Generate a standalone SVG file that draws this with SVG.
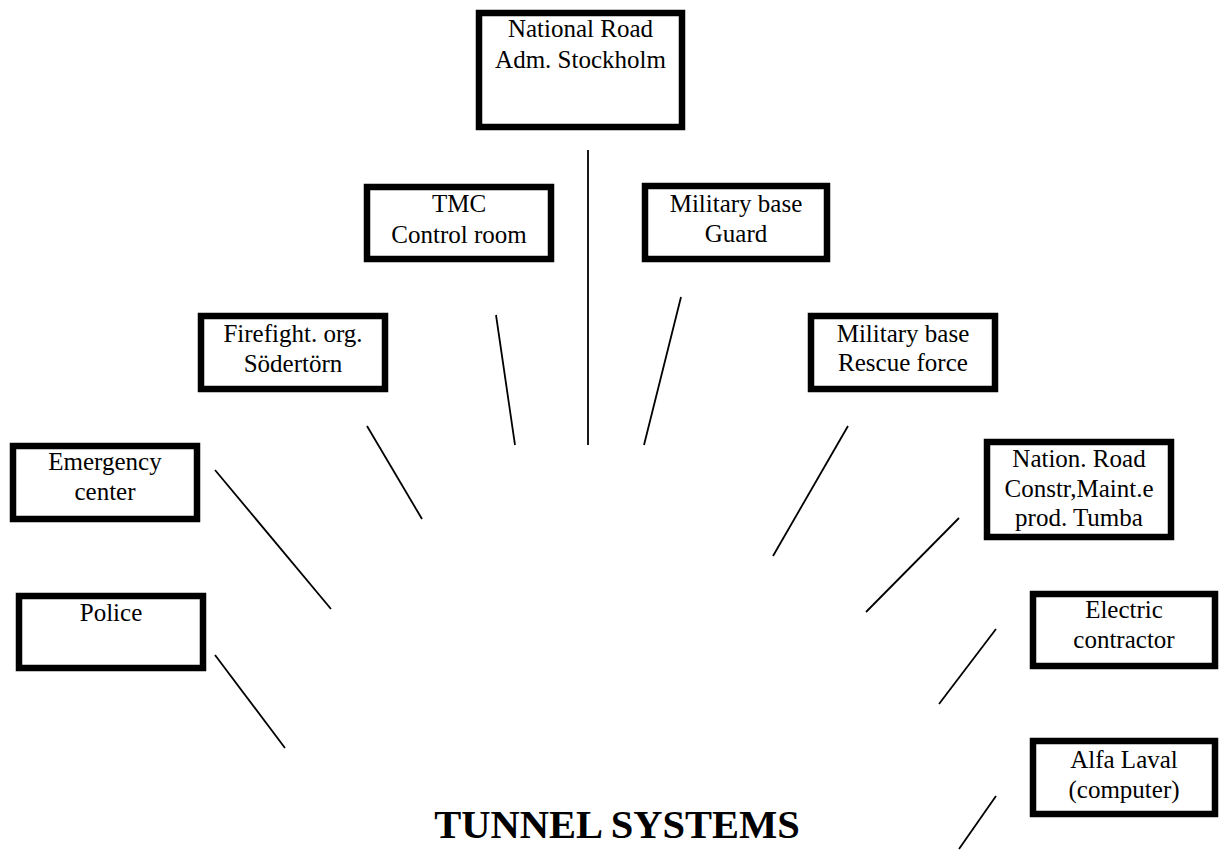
<svg xmlns="http://www.w3.org/2000/svg" width="1219" height="850" viewBox="0 0 1219 850">
<style>
.box{fill:#fff;stroke:#000;stroke-width:6.5}
.t{font-family:"Liberation Serif","Times New Roman",serif;font-size:25px;fill:#000;text-anchor:middle}
.title{font-family:"Liberation Serif","Times New Roman",serif;font-size:40.5px;font-weight:bold;fill:#000;text-anchor:middle}
.c line{stroke:#000;stroke-width:1.8}
</style>
<rect width="1219" height="850" fill="#fff"/>
<g id="national-road-adm">
<rect class="box" x="479" y="13" width="203" height="114"/>
<text class="t" x="580.5" y="37">National Road</text>
<text class="t" x="580.5" y="68">Adm. Stockholm</text>
</g>
<g id="tmc">
<rect class="box" x="367" y="187" width="184" height="72"/>
<text class="t" x="459" y="212">TMC</text>
<text class="t" x="459" y="243">Control room</text>
</g>
<g id="military-guard">
<rect class="box" x="645" y="186" width="182" height="73"/>
<text class="t" x="736" y="212">Military base</text>
<text class="t" x="736" y="242">Guard</text>
</g>
<g id="firefight">
<rect class="box" x="201" y="316" width="184" height="73"/>
<text class="t" x="293" y="342">Firefight. org.</text>
<text class="t" x="293" y="372">Södertörn</text>
</g>
<g id="military-rescue">
<rect class="box" x="811" y="316" width="184" height="73"/>
<text class="t" x="903" y="342">Military base</text>
<text class="t" x="903" y="371">Rescue force</text>
</g>
<g id="emergency">
<rect class="box" x="13" y="446" width="184" height="73"/>
<text class="t" x="105" y="470">Emergency</text>
<text class="t" x="105" y="500">center</text>
</g>
<g id="nation-road-tumba">
<rect class="box" x="987" y="442" width="184" height="95"/>
<text class="t" x="1079" y="467">Nation. Road</text>
<text class="t" x="1079" y="497">Constr,Maint.e</text>
<text class="t" x="1079" y="526">prod. Tumba</text>
</g>
<g id="police">
<rect class="box" x="19" y="596" width="184" height="72"/>
<text class="t" x="111" y="621">Police</text>
</g>
<g id="electric">
<rect class="box" x="1033" y="594" width="182" height="72"/>
<text class="t" x="1124" y="618">Electric</text>
<text class="t" x="1124" y="648">contractor</text>
</g>
<g id="alfa-laval">
<rect class="box" x="1033" y="741" width="182" height="73"/>
<text class="t" x="1124" y="768">Alfa Laval</text>
<text class="t" x="1124" y="798">(computer)</text>
</g>
<g id="tunnel-systems">
<text class="title" x="617" y="838">TUNNEL SYSTEMS</text>
</g>
<g id="connectors" class="c">
<line x1="588" y1="150" x2="588" y2="445"/>
<line x1="496" y1="315" x2="515" y2="445"/>
<line x1="681" y1="297" x2="644" y2="445"/>
<line x1="367" y1="426" x2="422" y2="519"/>
<line x1="848" y1="426" x2="773" y2="556"/>
<line x1="215" y1="470" x2="331" y2="609"/>
<line x1="959" y1="518" x2="866" y2="612"/>
<line x1="215" y1="655" x2="285" y2="748"/>
<line x1="996" y1="629" x2="939" y2="704"/>
<line x1="996" y1="796" x2="959" y2="849"/>
</g>
</svg>
